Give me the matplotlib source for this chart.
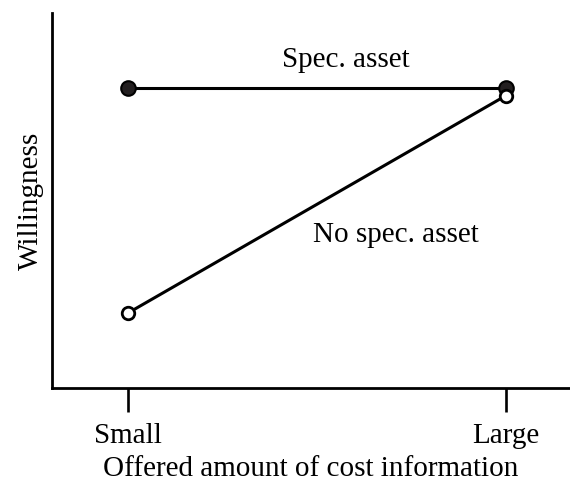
import matplotlib.pyplot as plt

plt.rcParams["font.family"] = ["Liberation Serif", "DejaVu Serif"]

categories = ["Small", "Large"]
spec_asset = [8.0, 8.0]
no_spec_asset = [2.0, 7.8]

fig = plt.figure(figsize=(5.70, 4.82), dpi=100)
ax = fig.add_axes([52 / 570, 1 - 388 / 482, 1 - 52 / 570, (388 - 13) / 482])

x = list(range(len(categories)))
ax.plot(x, spec_asset, color="black", lw=2.2, marker="o", ms=10.5,
        mfc="#231f20", mec="black", mew=1.5, zorder=3)
ax.plot(x, no_spec_asset, color="black", lw=2.2, marker="o", ms=9,
        mfc="white", mec="black", mew=2.0, zorder=4)

ax.text(0.576, 8.56, "Spec. asset", ha="center", va="baseline", fontsize=21)
ax.text(0.709, 3.89, "No spec. asset", ha="center", va="baseline", fontsize=21)

ax.set_xlim(-0.201, 1.169)
ax.set_ylim(0, 10)
ax.set_xticks(x)
ax.set_xticklabels(categories, fontsize=21)
ax.set_yticks([])
ax.tick_params(axis="x", length=17, width=1.9, pad=8)
for side in ["top", "right"]:
    ax.spines[side].set_visible(False)
for side in ["left", "bottom"]:
    ax.spines[side].set_linewidth(2.0)

ax.set_xlabel("Offered amount of cost information", fontsize=21, labelpad=5)
ax.set_ylabel("Willingness", fontsize=21, labelpad=6)

fig.savefig("out.png", dpi=100)
